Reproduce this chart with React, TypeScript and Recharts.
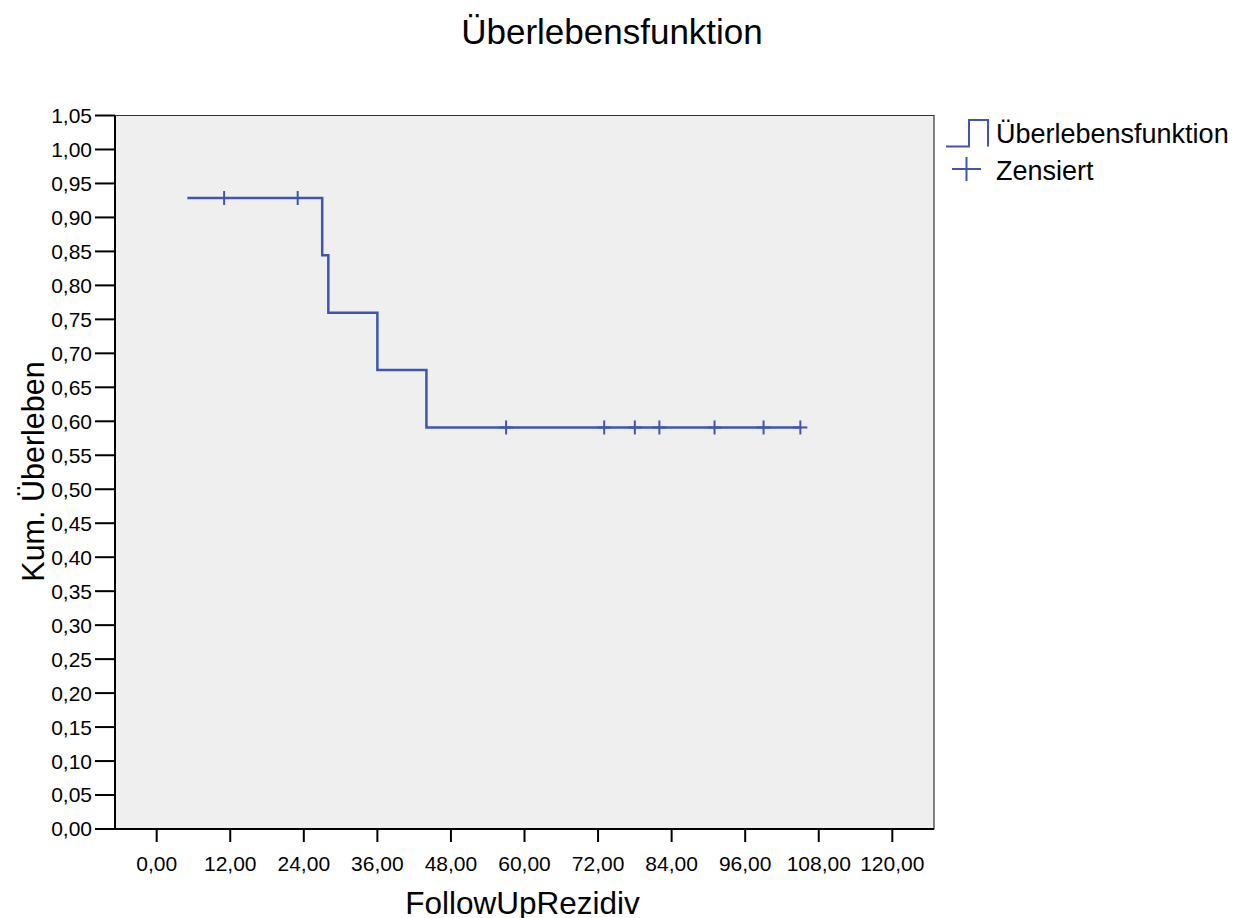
import React from "react";
import {
  ComposedChart,
  Line,
  Scatter,
  XAxis,
  YAxis,
  ReferenceArea,
} from "recharts";

const chartTitle = "Überlebensfunktion";
const xLabel = "FollowUpRezidiv";
const yLabel = "Kum. Überleben";
const legendNames = ["Überlebensfunktion", "Zensiert"];

// Kaplan-Meier step curve (time, survival)
const survivalTimes = [5, 27, 28, 36, 44, 105];
const survivalValues = [0.9286, 0.8442, 0.7597, 0.6753, 0.5909, 0.5909];

// censored observations
const censoredTimes = [11, 23, 57, 73, 78, 82, 91, 99, 105];
const censoredValues = [0.9286, 0.9286, 0.5909, 0.5909, 0.5909, 0.5909, 0.5909, 0.5909, 0.5909];

const xTicks = [0, 12, 24, 36, 48, 60, 72, 84, 96, 108, 120];
const yTicks = [0, 0.05, 0.1, 0.15, 0.2, 0.25, 0.3, 0.35, 0.4, 0.45, 0.5, 0.55, 0.6, 0.65, 0.7, 0.75, 0.8, 0.85, 0.9, 0.95, 1.0, 1.05];
const xDomain = [-6.8, 126.8];
const yDomain = [0, 1.05];

const survivalData = survivalTimes.map((t, i) => ({ t, s: survivalValues[i] }));
const censoredData = censoredTimes.map((t, i) => ({ t, s: censoredValues[i] }));

const BLUE = "#3F55B0";
const FONT = "'Liberation Sans', Arial, sans-serif";

const fmt = (v: number) => v.toFixed(2).replace(".", ",");

const PlusShape = (props: any) => {
  const { cx, cy } = props;
  if (cx == null || cy == null) return null;
  return (
    <g>
      <line x1={cx - 7} y1={cy} x2={cx + 7} y2={cy} stroke={BLUE} strokeWidth={2} />
      <line x1={cx} y1={cy - 7} x2={cx} y2={cy + 7} stroke={BLUE} strokeWidth={2} />
    </g>
  );
};

const LegendBox = () => (
  <svg
    width={290}
    height={80}
    style={{ position: "absolute", left: 946, top: 115, overflow: "visible" }}
  >
    <polyline
      points="0,31.5 23,31.5 23,5 42,5 42,31.5"
      fill="none"
      stroke={BLUE}
      strokeWidth={2}
    />
    <text x={50} y={28} fontSize={27} fontFamily={FONT} fill="#000">
      {legendNames[0]}
    </text>
    <line x1={6} y1={54} x2={35} y2={54} stroke={BLUE} strokeWidth={2} />
    <line x1={20.5} y1={42} x2={20.5} y2={66} stroke={BLUE} strokeWidth={2} />
    <text x={50} y={65} fontSize={27} fontFamily={FONT} fill="#000">
      {legendNames[1]}
    </text>
  </svg>
);

export default function App() {
  return (
    <div
      style={{
        position: "absolute",
        left: 0,
        top: 0,
        width: 1235,
        height: 918,
        background: "#fff",
        fontFamily: FONT,
      }}
    >
      <ComposedChart
        width={1235}
        height={918}
        margin={{ top: 115.5, right: 301, bottom: 0, left: 0 }}
      >
        <text x={612} y={44} textAnchor="middle" fontSize={35} fontFamily={FONT} fill="#000">
          {chartTitle}
        </text>
        <ReferenceArea
          x1={xDomain[0]}
          x2={xDomain[1]}
          y1={yDomain[0]}
          y2={yDomain[1]}
          fill="#EFEFEF"
          fillOpacity={1}
          stroke="#333"
          strokeWidth={1.2}
          ifOverflow="extendDomain"
        />
        <XAxis
          type="number"
          dataKey="t"
          domain={xDomain}
          ticks={xTicks}
          allowDataOverflow
          height={89}
          tickFormatter={fmt}
          tickSize={13}
          tickMargin={14}
          axisLine={{ stroke: "#000", strokeWidth: 2 }}
          tickLine={{ stroke: "#000", strokeWidth: 2 }}
          tick={{ fill: "#000", fontSize: 21, fontFamily: FONT }}
          interval={0}
          label={{
            content: () => (
              <text x={522.5} y={914} textAnchor="middle" fontSize={31.5} fontFamily={FONT} fill="#000">
                {xLabel}
              </text>
            ),
          }}
        />
        <YAxis
          type="number"
          dataKey="s"
          domain={yDomain}
          ticks={yTicks}
          allowDataOverflow
          width={115}
          tickFormatter={fmt}
          tickSize={20}
          tickMargin={3}
          axisLine={{ stroke: "#000", strokeWidth: 2 }}
          tickLine={{ stroke: "#000", strokeWidth: 2 }}
          tick={{ fill: "#000", fontSize: 21, fontFamily: FONT }}
          interval={0}
          label={{
            content: () => (
              <text
                x={44}
                y={471.5}
                transform="rotate(-90 44 471.5)"
                textAnchor="middle"
                fontSize={30.5}
                fontFamily={FONT}
                fill="#000"
              >
                {yLabel}
              </text>
            ),
          }}
        />
        <Line
          data={survivalData}
          dataKey="s"
          type="stepAfter"
          stroke={BLUE}
          strokeWidth={2.5}
          dot={false}
          activeDot={false}
          isAnimationActive={false}
          legendType="none"
        />
        <Scatter
          data={censoredData}
          dataKey="s"
          shape={<PlusShape />}
          isAnimationActive={false}
          legendType="none"
        />
      </ComposedChart>
      <LegendBox />
    </div>
  );
}
